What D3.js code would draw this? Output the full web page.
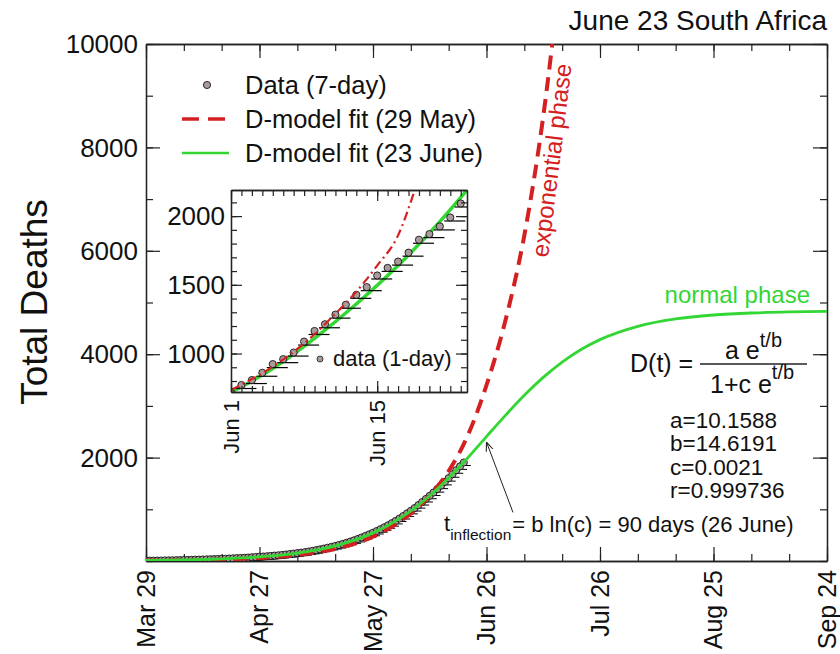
<!DOCTYPE html>
<html><head><meta charset="utf-8">
<script src="https://cdn.jsdelivr.net/npm/d3@7"></script>
<style>
body{margin:0;background:#fff}
text{font-family:"Liberation Sans",Arial,Helvetica,sans-serif;fill:#111}
</style>
</head><body>
<svg id="c" width="840" height="654"></svg>
<script>
// ---------- data ----------
const titleText = "June 23 South Africa";
const yAxisTitle = "Total Deaths";
const dayTicks = [0, 30, 60, 90, 120, 150, 180];
const dayLabels = ["Mar 29", "Apr 27", "May 27", "Jun 26", "Jul 26", "Aug 25", "Sep 24"];
const yTicks = [2000, 4000, 6000, 8000, 10000];

// 7-day data, one value per day starting at day 0
const data7Values = [
  5, 6, 7, 8, 9, 11, 12, 13, 15, 17,
  18, 20, 23, 25, 27, 29, 32, 34, 36, 38,
  41, 44, 48, 52, 55, 58, 62, 67, 72, 77,
  82, 87, 92, 98, 104, 110, 117, 125, 134, 143,
  152, 161, 171, 183, 196, 210, 225, 240, 256, 273,
  290, 309, 330, 352, 375, 400, 426, 455, 485, 515,
  546, 580, 615, 652, 691, 732, 775, 822, 870, 920,
  970, 1024, 1081, 1140, 1200, 1262, 1325, 1390, 1458, 1530,
  1603, 1678, 1755, 1830, 1905
];

// D-model fit (23 June)
const fitJuneDays   = [0, 10, 20, 30, 40, 50, 60, 65, 70, 75, 80, 85, 90, 95, 100, 105, 110, 115, 120, 130, 140, 150, 160, 170, 180];
const fitJuneValues = [10, 20, 40, 78, 151, 291, 544, 732, 971, 1263, 1607, 1991, 2407, 2817, 3205, 3552, 3848, 4090, 4282, 4540, 4683, 4758, 4797, 4817, 4827];

// D-model fit (29 May)
const fitMayDays   = [0, 10, 20, 30, 40, 50, 60, 65, 70, 75, 80, 85, 90, 95, 100, 105, 110];
const fitMayValues = [8, 15, 30, 60, 120, 235, 470, 660, 920, 1270, 1740, 2420, 3400, 4650, 6300, 8600, 11700];

// inset: 1-day data (day 0 = Jun 1)
const insetValues = [715, 771, 807, 860, 923, 959, 1007, 1087, 1164, 1213, 1283, 1355, 1427, 1483, 1568, 1623, 1669, 1734, 1828, 1869, 1925, 1990, 2092];
const insetTickDays = [0, 14];
const insetTickLabels = ["Jun 1", "Jun 15"];
const insetYTicks = [1000, 1500, 2000];
const insetFitJuneDays   = [0, 4, 8, 12, 16, 20, 22.6];
const insetFitJuneValues = [718, 890, 1110, 1360, 1640, 1960, 2190];
const insetFitMayDays   = [0, 4, 8, 10, 12, 14, 16, 17.6];
const insetFitMayValues = [735, 905, 1140, 1290, 1450, 1640, 1860, 2190];

const legendLabels = ["Data (7-day)", "D-model fit (29 May)", "D-model fit (23 June)"];
const paramLabels = ["a=10.1588", "b=14.6191", "c=0.0021", "r=0.999736"];
const inflection = {day: 90, value: 2300, fromDay: 97, fromValue: 940};

// ---------- styles ----------
const RED = "#d42020", GREEN = "#33d633", MARK = "#a99a9c", INK = "#222";

const svg = d3.select("#c");
const M = {l: 146, r: 827, t: 44, b: 561};
const x = d3.scaleLinear([0, 180], [M.l, M.r]);
const y = d3.scaleLinear([0, 10000], [M.b, M.t]);

const defs = svg.append("defs");
defs.append("clipPath").attr("id", "clipMain")
  .append("rect").attr("x", M.l).attr("y", M.t).attr("width", M.r - M.l).attr("height", M.b - M.t);
defs.append("marker").attr("id", "arr").attr("viewBox", "0 0 10 10")
  .attr("refX", 10).attr("refY", 5).attr("markerWidth", 9).attr("markerHeight", 9)
  .attr("orient", "auto").attr("markerUnits", "userSpaceOnUse")
  .append("path").attr("d", "M0,1 L10,5 L0,9").attr("fill", "none").attr("stroke", INK).attr("stroke-width", 1.2);

function frame(g, xs, ys, xMinor, xMajor, yMinor, yMajor, lmin, lmaj) {
  const [x0, x1] = xs.range(), [y0, y1] = ys.range();
  const sides = [
    [d3.axisBottom, xs, `translate(0,${y0})`, xMinor, xMajor],
    [d3.axisTop, xs, `translate(0,${y1})`, xMinor, xMajor],
    [d3.axisLeft, ys, `translate(${x0},0)`, yMinor, yMajor],
    [d3.axisRight, ys, `translate(${x1},0)`, yMinor, yMajor]
  ];
  sides.forEach(([fn, s, tr, minor, major]) => {
    [[minor, lmin], [major, lmaj]].forEach(([vals, len]) => {
      const a = g.append("g").attr("transform", tr)
        .call(fn(s).tickValues(vals).tickSize(-len).tickSizeOuter(0).tickFormat(""));
      a.selectAll("line").attr("stroke", INK).attr("stroke-width", 1.2);
      a.select(".domain").attr("stroke", INK).attr("stroke-width", 1.3);
    });
  });
}

// ---------- main plot ----------
const gMain = svg.append("g");
frame(gMain, x, y, d3.range(0, 181, 10), dayTicks, d3.range(0, 10001, 1000), yTicks, 7, 14);

gMain.append("g").selectAll("text").data(yTicks).join("text")
  .attr("x", M.l - 8).attr("y", d => y(d)).attr("dy", "0.35em")
  .attr("text-anchor", "end").attr("font-size", 26).text(d => d);

gMain.append("g").selectAll("text").data(dayTicks).join("text")
  .attr("transform", d => `translate(${x(d)},${M.b + 9}) rotate(-90)`)
  .attr("dy", "0.35em").attr("text-anchor", "end").attr("font-size", 25)
  .text((d, i) => dayLabels[i]);

svg.append("text").attr("transform", "translate(47,302) rotate(-90)")
  .attr("text-anchor", "middle").attr("font-size", 37).text(yAxisTitle);

svg.append("text").attr("x", 827).attr("y", 30).attr("text-anchor", "end")
  .attr("font-size", 28).text(titleText);

const plot = svg.append("g").attr("clip-path", "url(#clipMain)");
const pts = data7Values.map((v, i) => [i, v]);
plot.append("g").selectAll("line").data(pts).join("line")
  .attr("x1", d => x(d[0]) - 3).attr("x2", d => x(d[0]) + 7)
  .attr("y1", d => y(d[1]) + 3).attr("y2", d => y(d[1]) + 3)
  .attr("stroke", "#000").attr("stroke-width", 1);
plot.append("g").selectAll("circle").data(pts).join("circle")
  .attr("cx", d => x(d[0])).attr("cy", d => y(d[1])).attr("r", 3.6)
  .attr("fill", MARK).attr("stroke", "#000").attr("stroke-width", 0.8);

const lineMain = d3.line().x(d => x(d[0])).y(d => y(d[1])).curve(d3.curveMonotoneX);
plot.append("path").datum(fitMayDays.map((d, i) => [d, fitMayValues[i]]))
  .attr("d", lineMain).attr("fill", "none").attr("stroke", RED)
  .attr("stroke-width", 4).attr("stroke-dasharray", "14,8");
plot.append("path").datum(fitJuneDays.map((d, i) => [d, fitJuneValues[i]]))
  .attr("d", lineMain).attr("fill", "none").attr("stroke", GREEN).attr("stroke-width", 2.8);

// legend
const lg = svg.append("g");
const rows = [85, 119, 153];
lg.append("circle").attr("cx", 207).attr("cy", rows[0]).attr("r", 3.6)
  .attr("fill", MARK).attr("stroke", "#000").attr("stroke-width", 0.8);
lg.append("line").attr("x1", 182).attr("x2", 226).attr("y1", rows[1]).attr("y2", rows[1])
  .attr("stroke", RED).attr("stroke-width", 3.5).attr("stroke-dasharray", "17,9");
lg.append("line").attr("x1", 182).attr("x2", 229).attr("y1", rows[2]).attr("y2", rows[2])
  .attr("stroke", GREEN).attr("stroke-width", 2.5);
lg.selectAll("text").data(legendLabels).join("text")
  .attr("x", 245).attr("y", (d, i) => rows[i]).attr("dy", "0.36em")
  .attr("font-size", 25.5).text(d => d);

// annotations
svg.append("text").attr("transform", "translate(548,258) rotate(-83)")
  .attr("font-size", 24).style("fill", RED).text("exponential phase");
svg.append("text").attr("x", 810).attr("y", 303).attr("text-anchor", "end")
  .attr("font-size", 24).style("fill", GREEN).text("normal phase");

// formula
const fg = svg.append("g");
fg.append("text").attr("x", 630).attr("y", 372).attr("font-size", 25).text("D(t) =");
fg.append("line").attr("x1", 700).attr("x2", 807).attr("y1", 364).attr("y2", 364)
  .attr("stroke", INK).attr("stroke-width", 1.4);
const num = fg.append("text").attr("x", 725).attr("y", 359).attr("font-size", 25).text("a e");
num.append("tspan").attr("font-size", 20).attr("dy", -12).text("t/b");
const den = fg.append("text").attr("x", 710).attr("y", 393).attr("font-size", 25).text("1+c e");
den.append("tspan").attr("font-size", 20).attr("dy", -14).text("t/b");
fg.selectAll("text.p").data(paramLabels).join("text").attr("class", "p")
  .attr("x", 670).attr("y", (d, i) => 428 + i * 23.4).attr("font-size", 22.5).text(d => d);

// inflection annotation
svg.append("line")
  .attr("x1", x(inflection.fromDay)).attr("y1", y(inflection.fromValue))
  .attr("x2", x(inflection.day)).attr("y2", y(inflection.value))
  .attr("stroke", INK).attr("stroke-width", 1).attr("marker-end", "url(#arr)");
const tInf = svg.append("text").attr("x", 444).attr("y", 531).attr("font-size", 22).text("t");
tInf.append("tspan").attr("font-size", 15.5).attr("dy", 9).text("inflection");
tInf.append("tspan").attr("font-size", 22).attr("dx", 1).attr("dy", -8).text("= b ln(c) = 90 days (26 June)");

// ---------- inset ----------
const I = {l: 231, r: 467, t: 190, b: 392};
const xi = d3.scaleLinear([0, 22.6], [I.l, I.r]);
const yi = d3.scaleLinear([720, 2190], [I.b, I.t]);
defs.append("clipPath").attr("id", "clipIn")
  .append("rect").attr("x", I.l).attr("y", I.t).attr("width", I.r - I.l).attr("height", I.b - I.t);
const gi = svg.append("g");
gi.append("rect").attr("x", I.l).attr("y", I.t).attr("width", I.r - I.l).attr("height", I.b - I.t).attr("fill", "#fff");

const ip = gi.append("g").attr("clip-path", "url(#clipIn)");
const lineIn = d3.line().x(d => xi(d[0])).y(d => yi(d[1])).curve(d3.curveMonotoneX);
ip.append("path").datum(insetFitJuneDays.map((d, i) => [d, insetFitJuneValues[i]]))
  .attr("d", lineIn).attr("fill", "none").attr("stroke", GREEN).attr("stroke-width", 3.5);
const ipts = insetValues.map((v, i) => [i, v]);
ip.append("g").selectAll("line").data(ipts).join("line")
  .attr("x1", d => xi(d[0]) - 6).attr("x2", d => xi(d[0]) + 15)
  .attr("y1", d => yi(d[1]) + 3.5).attr("y2", d => yi(d[1]) + 3.5)
  .attr("stroke", "#000").attr("stroke-width", 1.2);
ip.append("g").selectAll("circle").data(ipts).join("circle")
  .attr("cx", d => xi(d[0])).attr("cy", d => yi(d[1])).attr("r", 3.6)
  .attr("fill", MARK).attr("stroke", "#000").attr("stroke-width", 0.8);
ip.append("path").datum(insetFitMayDays.map((d, i) => [d, insetFitMayValues[i]]))
  .attr("d", lineIn).attr("fill", "none").attr("stroke", RED)
  .attr("stroke-width", 2.2).attr("stroke-dasharray", "9,4,2,4");

frame(gi, xi, yi, d3.range(0, 23, 1), insetTickDays, d3.range(800, 2200, 100), insetYTicks, 6, 11);

gi.append("g").selectAll("text").data(insetYTicks).join("text")
  .attr("x", I.l - 6).attr("y", d => yi(d)).attr("dy", "0.35em")
  .attr("text-anchor", "end").attr("font-size", 26).text(d => d);
gi.append("g").selectAll("text").data(insetTickDays).join("text")
  .attr("transform", d => `translate(${xi(d)},${I.b + 8}) rotate(-90)`)
  .attr("dy", "0.35em").attr("text-anchor", "end").attr("font-size", 22)
  .text((d, i) => insetTickLabels[i]);

gi.append("circle").attr("cx", 320).attr("cy", 359).attr("r", 3)
  .attr("fill", MARK).attr("stroke", "#000").attr("stroke-width", 0.7);
gi.append("text").attr("x", 333).attr("y", 366).attr("font-size", 22).text("data (1-day)");
</script>
</body></html>
